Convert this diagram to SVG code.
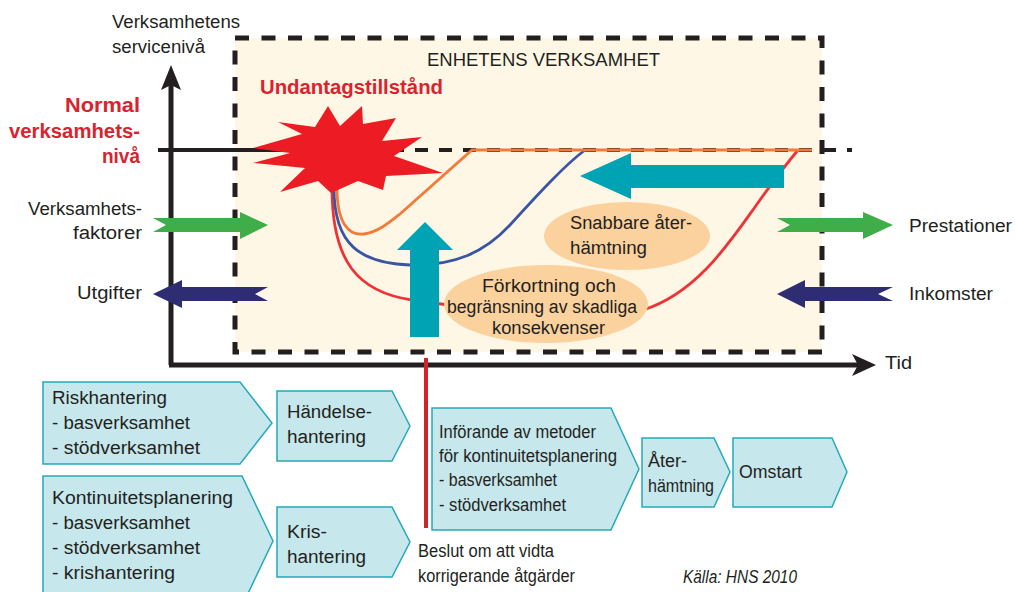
<svg xmlns="http://www.w3.org/2000/svg" width="1015" height="592" viewBox="0 0 1015 592">
<style>
text{font-family:"Liberation Sans",Arial,sans-serif;fill:#231f20;font-size:18px}
.red{fill:#d9232e;font-weight:bold;font-size:20px}
.sm{font-size:17.5px}
.box{fill:#c6e7ec;stroke:#26a9b8;stroke-width:1.5}
.ell{fill:#fbd19d}
.teal{fill:#00a3b4}
.green{fill:#3fae49}
.navy{fill:#2e2c73}
.curve{fill:none;stroke-width:2.8}
</style>
<rect width="1015" height="592" fill="#ffffff"/>
<g id="frame">
<rect x="235" y="38" width="587" height="314" fill="#fef7e5" stroke="#231f20" stroke-width="5" stroke-dasharray="14 12.5"/>
<text x="427" y="66" textLength="233" lengthAdjust="spacingAndGlyphs">ENHETENS VERKSAMHET</text>
</g>
<g id="axes">
<line x1="171" y1="84" x2="171" y2="365" stroke="#231f20" stroke-width="5"/>
<polygon points="171,65 181,90 171,85 161,90" fill="#231f20"/>
<line x1="169" y1="365" x2="858" y2="365" stroke="#231f20" stroke-width="5"/>
<polygon points="876,365 852,354 858,365 852,376" fill="#231f20"/>
<line x1="158" y1="150" x2="295" y2="150" stroke="#231f20" stroke-width="4"/>
<line x1="295" y1="150" x2="852" y2="150" stroke="#231f20" stroke-width="4" stroke-dasharray="13 11"/>
<text x="112" y="28" textLength="128" lengthAdjust="spacingAndGlyphs">Verksamhetens</text>
<text x="112" y="53" textLength="93" lengthAdjust="spacingAndGlyphs">servicenivå</text>
<text x="885" y="369" textLength="27" lengthAdjust="spacingAndGlyphs">Tid</text>
</g>
<g id="labels">
<text class="red" x="65" y="112" textLength="75" lengthAdjust="spacingAndGlyphs">Normal</text>
<text class="red" x="9" y="138" textLength="131" lengthAdjust="spacingAndGlyphs">verksamhets-</text>
<text class="red" x="102" y="163" textLength="38" lengthAdjust="spacingAndGlyphs">nivå</text>
<text class="red" x="260" y="94" textLength="183" lengthAdjust="spacingAndGlyphs">Undantagstillstånd</text>
<text x="28" y="215" textLength="114" lengthAdjust="spacingAndGlyphs">Verksamhets-</text>
<text x="73" y="239" textLength="69" lengthAdjust="spacingAndGlyphs">faktorer</text>
<text x="77" y="299" textLength="65" lengthAdjust="spacingAndGlyphs">Utgifter</text>
<text x="909" y="232" textLength="103" lengthAdjust="spacingAndGlyphs">Prestationer</text>
<text x="909" y="300" textLength="84" lengthAdjust="spacingAndGlyphs">Inkomster</text>
</g>
<g id="connectors">
<path class="curve" stroke="#ee3338" d="M332,188 C332,262 358,292 412,300 C470,309 600,320 643,310 C695,294 728,245 755,207 C772,183 788,162 798,150"/>
<path class="curve" stroke="#3b55a4" d="M334,188 C334,245 360,263 410,265 C455,266 485,252 510,225 C540,192 565,165 585,150"/>
<path class="curve" stroke="#f47a3a" d="M337,188 C337,222 348,236 364,234 C378,232 390,222 400,214 L472,150 L812,150"/>
<polygon class="green" points="153,218 240,218 240,212 268,225 240,239 240,232 153,232 166,225"/>
<polygon class="green" points="777,218 863,218 863,212 893,225 863,239 863,232 777,232 790,225"/>
<polygon class="navy" points="153,294 182,280 182,287 268,287 255,294 268,301 182,301 182,308"/>
<polygon class="navy" points="777,294 805,280 805,287 893,287 878,294 893,301 805,301 805,308"/>
<polygon class="teal" points="580,176 631,153 631,165 784,165 784,188 631,188 631,199"/>
<polygon class="teal" points="425,222 453,250 439,250 439,337 410,337 410,250 397,250"/>
<line x1="426" y1="358" x2="426" y2="528" stroke="#d2232a" stroke-width="4"/>
</g>
<g id="star">
<polygon fill="#ed1c24" points="328,106 340,126 362,106 363,124 396,118 382,141 422,137 394,156 443,173 386,176 383,190 358,181 331,193 318,181 280,192 305,168 253,163 290,153 253,148 302,134 278,122 315,127"/>
</g>
<g id="ellipse-snabbare">
<ellipse class="ell" cx="627" cy="236" rx="83" ry="34"/>
<text x="570" y="229" textLength="122" lengthAdjust="spacingAndGlyphs">Snabbare åter-</text>
<text x="570" y="254" textLength="77" lengthAdjust="spacingAndGlyphs">hämtning</text>
</g>
<g id="ellipse-forkortning">
<ellipse class="ell" cx="546" cy="304" rx="102" ry="39"/>
<text x="482" y="292" textLength="134" lengthAdjust="spacingAndGlyphs">Förkortning och</text>
<text x="447" y="313" textLength="190" lengthAdjust="spacingAndGlyphs">begränsning av skadliga</text>
<text x="492" y="334" textLength="113" lengthAdjust="spacingAndGlyphs">konsekvenser</text>
</g>
<g id="riskhantering">
<path class="box" d="M43,382 H240 L272,423 L240,464 H43 Z"/>
<text x="52" y="404" textLength="115" lengthAdjust="spacingAndGlyphs">Riskhantering</text>
<text x="52" y="429" textLength="138" lengthAdjust="spacingAndGlyphs">- basverksamhet</text>
<text x="52" y="454" textLength="148" lengthAdjust="spacingAndGlyphs">- stödverksamhet</text>
</g>
<g id="kontinuitetsplanering">
<path class="box" d="M43,476 H242 L273,541 L242,606 H43 Z"/>
<text x="52" y="504" textLength="181" lengthAdjust="spacingAndGlyphs">Kontinuitetsplanering</text>
<text x="52" y="529" textLength="138" lengthAdjust="spacingAndGlyphs">- basverksamhet</text>
<text x="52" y="554" textLength="148" lengthAdjust="spacingAndGlyphs">- stödverksamhet</text>
<text x="52" y="579" textLength="123" lengthAdjust="spacingAndGlyphs">- krishantering</text>
</g>
<g id="handelsehantering">
<path class="box" d="M277,391 H392 L410,426 L392,461 H277 Z"/>
<text x="287" y="418" textLength="85" lengthAdjust="spacingAndGlyphs">Händelse-</text>
<text x="287" y="443" textLength="79" lengthAdjust="spacingAndGlyphs">hantering</text>
</g>
<g id="krishantering">
<path class="box" d="M277,507 H392 L410,542 L392,577 H277 Z"/>
<text x="287" y="538" textLength="40" lengthAdjust="spacingAndGlyphs">Kris-</text>
<text x="287" y="563" textLength="79" lengthAdjust="spacingAndGlyphs">hantering</text>
</g>
<g id="inforande">
<path class="box" d="M432,408 H611 L639,469 L611,530 H432 Z"/>
<text class="sm" x="439" y="438" textLength="157" lengthAdjust="spacingAndGlyphs">Införande av metoder</text>
<text class="sm" x="439" y="462" textLength="178" lengthAdjust="spacingAndGlyphs">för kontinuitetsplanering</text>
<text class="sm" x="439" y="486" textLength="118" lengthAdjust="spacingAndGlyphs">- basverksamhet</text>
<text class="sm" x="439" y="511" textLength="127" lengthAdjust="spacingAndGlyphs">- stödverksamhet</text>
</g>
<g id="aterhamtning">
<path class="box" d="M642,438 H714 L730,472 L714,507 H642 Z"/>
<text class="sm" x="648" y="467" textLength="39" lengthAdjust="spacingAndGlyphs">Åter-</text>
<text class="sm" x="648" y="492" textLength="66" lengthAdjust="spacingAndGlyphs">hämtning</text>
</g>
<g id="omstart">
<path class="box" d="M733,438 H832 L847,472 L832,507 H733 Z"/>
<text class="sm" x="739" y="478" textLength="63" lengthAdjust="spacingAndGlyphs">Omstart</text>
</g>
<g id="notes">
<text class="sm" x="418" y="557" textLength="136" lengthAdjust="spacingAndGlyphs">Beslut om att vidta</text>
<text class="sm" x="418" y="582" textLength="157" lengthAdjust="spacingAndGlyphs">korrigerande åtgärder</text>
<text x="683" y="583" font-style="italic" font-size="17" textLength="114" lengthAdjust="spacingAndGlyphs">Källa: HNS 2010</text>
</g>
</svg>
